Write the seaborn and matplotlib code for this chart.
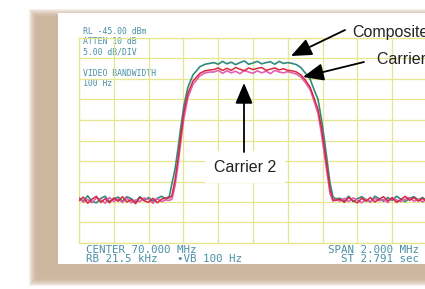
import matplotlib
matplotlib.use("Agg")
import matplotlib.pyplot as plt
from matplotlib.patches import Rectangle
import seaborn as sns

# Offset from centre frequency (MHz) - same sampling for the three traces
freq_noise_left = [-1.000, -0.975, -0.950, -0.925, -0.900, -0.875, -0.850, -0.825, -0.800, -0.775, -0.750,
                   -0.725, -0.700, -0.675, -0.650, -0.625, -0.600, -0.575, -0.550, -0.525, -0.500, -0.480]
freq_edge_left = [-0.466, -0.448, -0.431, -0.414, -0.397, -0.374, -0.345, -0.305, -0.275, -0.250]
freq_top = [-0.225, -0.200, -0.175, -0.150, -0.125, -0.100, -0.075, -0.050, -0.025,
            0.000, 0.025, 0.050, 0.075, 0.100, 0.125, 0.150, 0.175, 0.200]
freq_edge_right = [0.225, 0.250, 0.275, 0.300, 0.328, 0.350, 0.374, 0.394, 0.414, 0.443, 0.460, 0.475]
freq_noise_right = [0.500, 0.525, 0.550, 0.575, 0.600, 0.625, 0.650, 0.675, 0.700, 0.725, 0.750,
                    0.775, 0.800, 0.825, 0.850, 0.875, 0.900, 0.925, 0.950, 0.975, 1.000, 1.025]
freq = freq_noise_left + freq_edge_left + freq_top + freq_edge_right + freq_noise_right

# Levels in dBm (RL -45 dBm, 5 dB/div)
composite = [-84.0, -84.8, -83.5, -84.9, -85.2, -84.1, -83.6, -84.9, -84.3, -83.8, -84.8,
             -83.7, -84.2, -85.0, -83.7, -84.6, -83.9, -84.8, -84.1, -83.6, -84.3, -83.5,
             -80.5, -77.0, -72.0, -66.5, -61.5, -57.0, -54.0, -52.0, -51.4, -51.2,
             -51.0, -51.4, -50.7, -51.3, -50.9, -51.5, -51.0, -50.6, -51.4,
             -51.1, -50.7, -51.3, -51.0, -50.8, -51.4, -50.7, -51.2, -51.0,
             -51.2, -51.5, -52.2, -53.5, -55.0, -57.5, -60.0, -65.0, -71.0, -80.5, -83.8, -84.2,
             -84.1, -84.7, -83.6, -84.9, -84.2, -83.7, -84.5, -85.0, -83.6, -84.2, -84.8,
             -83.9, -84.6, -83.6, -84.3, -84.9, -84.1, -83.7, -84.5, -83.9, -84.8, -84.2]
carrier1 = [-84.7, -83.8, -85.3, -84.3, -83.6, -85.1, -84.2, -85.2, -84.0, -84.8, -83.7,
            -85.0, -84.4, -85.4, -83.9, -84.7, -85.1, -84.1, -85.2, -84.3, -84.0, -84.0,
            -83.5, -79.6, -74.5, -68.5, -63.0, -58.5, -55.5, -53.6, -53.0, -52.8,
            -52.7, -52.3, -52.9, -52.4, -52.9, -52.2, -52.6, -53.0, -52.3,
            -52.7, -52.4, -52.2, -52.9, -52.6, -52.3, -52.8, -52.5, -52.9,
            -53.0, -53.3, -54.0, -55.2, -57.0, -59.5, -62.5, -67.0, -73.0, -82.0, -84.5, -84.6,
            -84.3, -85.1, -83.9, -84.7, -85.2, -84.1, -84.8, -83.9, -85.0, -84.3, -83.7,
            -84.7, -84.0, -85.1, -84.4, -83.6, -84.6, -83.9, -84.8, -84.1, -85.0, -84.3]
carrier2 = [-84.2, -85.0, -84.4, -85.2, -84.0, -84.5, -85.3, -83.9, -84.9, -84.3, -85.1,
            -84.0, -85.2, -84.5, -84.9, -84.0, -84.4, -85.3, -84.2, -84.9, -84.5, -84.6,
            -84.3, -81.0, -76.0, -70.0, -64.5, -59.5, -56.3, -54.2, -53.5, -53.3,
            -53.3, -52.9, -53.6, -53.0, -53.5, -53.1, -53.7, -52.9, -53.3,
            -53.6, -53.0, -53.5, -53.1, -53.7, -52.9, -53.3, -53.5, -53.2,
            -53.5, -53.8, -54.5, -55.8, -57.6, -60.2, -63.5, -68.5, -74.5, -83.0, -84.8, -84.4,
            -84.8, -84.1, -84.9, -84.0, -84.5, -85.2, -84.3, -85.0, -84.1, -84.7, -84.4,
            -85.1, -83.9, -84.5, -84.9, -84.3, -83.9, -84.8, -84.3, -85.0, -84.1, -84.6]

ref_level = -45.0
db_per_div = 5.0
span = 2.0

top_text = ["RL -45.00 dBm", "ATTEN 10 dB", "5.00 dB/DIV", "", "VIDEO BANDWIDTH", "100 Hz"]

sns.set_style("white")

W, H = 425, 289
fig = plt.figure(figsize=(W / 100, H / 100), dpi=100)

# fond : page blanche avec ombre beige
bg = fig.add_axes([0, 0, 1, 1])
bg.set_xlim(0, W)
bg.set_ylim(H, 0)
bg.axis("off")
for k in range(8):
    g = 7 - k
    bg.add_patch(Rectangle((36 - g, 16 - g), W, 263 + 2 * g, color="#c2a487", alpha=0.17, lw=0))
bg.add_patch(Rectangle((58, 13), W, 251, color="white", lw=0))

# ecran de l'analyseur
ax = fig.add_axes([79 / W, 1 - 243 / H, 348 / W, 205 / H])
ax.set_facecolor("none")
ax.set_xlim(-span / 2, span / 2)
ax.set_ylim(ref_level - 10 * db_per_div, ref_level)
ax.set_xticks([-1.0 + 0.2 * i for i in range(11)])
ax.set_yticks([ref_level - db_per_div * i for i in range(11)])
ax.tick_params(length=0, labelbottom=False, labelleft=False)
ax.grid(True, color="#e4e78f", lw=0.9)
for s in ax.spines.values():
    s.set_color("#e4e78f")
    s.set_linewidth(0.9)

sns.lineplot(x=freq, y=composite, ax=ax, color="#2f8a7e", lw=1.2, zorder=3)
sns.lineplot(x=freq, y=carrier2, ax=ax, color="#e25fb4", lw=1.2, zorder=4)
sns.lineplot(x=freq, y=carrier1, ax=ax, color="#d8283e", lw=1.1, zorder=5)
ax.set_xlabel("")
ax.set_ylabel("")

# textes de l'ecran
txt_color = "#4a8fa6"
for i, t in enumerate(top_text):
    bg.text(83, 31.5 + 10.4 * i, t, fontsize=5.9, family="DejaVu Sans Mono",
            color=txt_color, va="center", ha="left")
bg.text(86, 250, "CENTER 70.000 MHz", fontsize=7.8, family="DejaVu Sans Mono", color=txt_color, va="center")
bg.text(86, 259.5, "RB 21.5 kHz", fontsize=7.8, family="DejaVu Sans Mono", color=txt_color, va="center")
bg.text(177, 259.5, "\u2022VB 100 Hz", fontsize=7.8, family="DejaVu Sans Mono", color=txt_color, va="center")
bg.text(419, 250, "SPAN 2.000 MHz", fontsize=7.8, family="DejaVu Sans Mono", color=txt_color, va="center", ha="right")
bg.text(419, 259.5, "ST 2.791 sec", fontsize=7.8, family="DejaVu Sans Mono", color=txt_color, va="center", ha="right")


def px_to_data(x, y):
    f = (x - 253) / 34.8 * 0.2
    db = ref_level - (y - 38) / 20.5 * db_per_div
    return f, db


# annotations
arrow = dict(arrowstyle="-|>,head_length=0.9,head_width=0.38", color="black", lw=1.3,
             mutation_scale=14, shrinkA=0, shrinkB=0)
ax.annotate("", xy=px_to_data(291, 56), xytext=px_to_data(345, 30), arrowprops=arrow,
            annotation_clip=False, zorder=8)
ax.annotate("", xy=px_to_data(303, 77), xytext=px_to_data(364, 62), arrowprops=arrow,
            annotation_clip=False, zorder=8)
ax.text(*px_to_data(245, 167), "Carrier 2", fontsize=11.5, family="Liberation Sans", color="#222222",
        ha="center", va="center", zorder=7,
        bbox=dict(boxstyle="square,pad=0.55", fc="white", ec="none"))
ax.annotate("", xy=px_to_data(244, 83), xytext=px_to_data(244, 152), arrowprops=arrow,
            annotation_clip=False, zorder=8)
ax.text(*px_to_data(352, 32), "Composite", fontsize=11.5, family="Liberation Sans", color="#222222",
        ha="left", va="center", clip_on=False)
ax.text(*px_to_data(377, 60), "Carrier 1", fontsize=11.5, family="Liberation Sans", color="#222222",
        ha="left", va="center", clip_on=False)

plt.savefig("out.png", dpi=100)
